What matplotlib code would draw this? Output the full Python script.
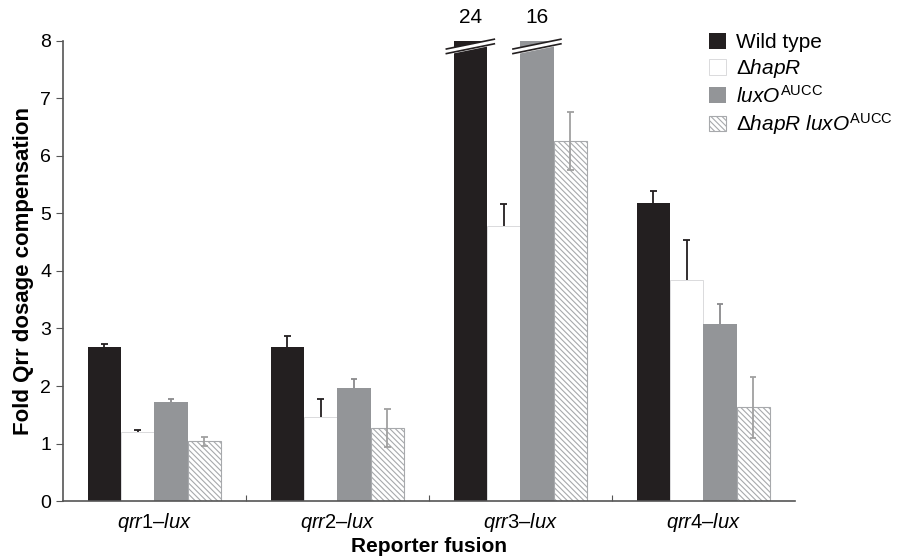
import numpy as np
import matplotlib.pyplot as plt

plt.rcParams['font.family'] = ['Liberation Sans', 'DejaVu Sans']
plt.rcParams['mathtext.fontset'] = 'custom'
plt.rcParams['mathtext.rm'] = 'Liberation Sans'
plt.rcParams['mathtext.it'] = 'Liberation Sans:italic'
plt.rcParams['mathtext.bf'] = 'Liberation Sans:bold'
plt.rcParams['hatch.linewidth'] = 0.8

# data
fusions = [r'$\mathit{qrr}$1$\mathit{–lux}$', r'$\mathit{qrr}$2$\mathit{–lux}$',
           r'$\mathit{qrr}$3$\mathit{–lux}$', r'$\mathit{qrr}$4$\mathit{–lux}$']
strains = ['Wild type', r'$\Delta\mathit{hapR}$', r'$\mathit{luxO}^{\mathrm{AUCC}}$',
           r'$\Delta\mathit{hapR}\ \mathit{luxO}^{\mathrm{AUCC}}$']
wild_type = [2.67, 2.67, 24, 5.18]
wild_type_err = [0.06, 0.2, 0, 0.21]
hapR = [1.2, 1.46, 4.79, 3.84]
hapR_err = [0.03, 0.31, 0.37, 0.7]
luxO = [1.73, 1.96, 16, 3.07]
luxO_err = [0.04, 0.16, 0, 0.35]
double = [1.04, 1.27, 6.26, 1.63]
double_err = [0.08, 0.33, 0.5, 0.53]

ymax = 8
x = np.arange(len(fusions)) + 0.5
w = 0.182
cap = 0.018

fig = plt.figure(figsize=(8.98, 5.57), dpi=100)
ax = fig.add_axes([0.070, 0.1005, 0.815, 0.826])

series = [
    (wild_type, wild_type_err, dict(color='#231f20'), '#231f20', False),
    (hapR, hapR_err, dict(facecolor='white', edgecolor='#d4d5d7', linewidth=0.6), '#231f20', False),
    (luxO, luxO_err, dict(color='#939598'), '#8a8a8c', False),
    (double, double_err, dict(facecolor='white', edgecolor='#a7a9ac', hatch='\\\\\\\\\\\\', linewidth=0.8), '#a0a0a0', True),
]

for i, (vals, errs, style, ecol, both) in enumerate(series):
    pos = x + (i - 1.5) * w
    ax.bar(pos, vals, w, label=strains[i], zorder=2, **style)
    vals = np.array(vals)
    errs = np.array(errs)
    show = (errs > 0) & (vals < ymax)
    lo = vals - errs if both else vals
    hi = vals + errs
    ax.vlines(pos[show], lo[show], hi[show], color=ecol, lw=1.3, zorder=3)
    ax.hlines(hi[show], pos[show] - cap, pos[show] + cap, color=ecol, lw=1.3, zorder=3)
    if both:
        ax.hlines(lo[show], pos[show] - cap, pos[show] + cap, color=ecol, lw=1.3, zorder=3)

# broken bars for qrr3 (values off scale)
for i, vals in [(0, wild_type), (2, luxO)]:
    for j, v in enumerate(vals):
        if v > ymax:
            xc = x[j] + (i - 1.5) * w
            xs = np.array([xc - w / 2 - 0.04, xc + w / 2 + 0.04])
            y1 = np.array([7.78, 7.95])
            y2 = y1 + 0.08
            ax.fill_between(xs, y1, y2, color='white', zorder=4, clip_on=False)
            ax.plot(xs, y1, color='#231f20', lw=1.2, zorder=5, clip_on=False)
            ax.plot(xs, y2, color='#231f20', lw=1.2, zorder=5, clip_on=False)
            ax.text(xc, 8.25, f'{v:g}', ha='center', va='bottom', fontsize=15)

ax.set_xlim(0, 4)
ax.set_ylim(0, ymax)
ax.set_yticks(range(0, 9))
ax.set_xticks([1, 2, 3])
ax.set_xticklabels([])
ax.set_xticks(x, minor=True)
ax.set_xticklabels(fusions, minor=True, fontsize=14.5)
ax.tick_params(axis='x', which='major', direction='in', length=4, color='#555555')
ax.tick_params(axis='x', which='minor', length=0, pad=7)
ax.tick_params(axis='y', direction='out', length=5, color='#555555', labelsize=14)

for s in ['top', 'right']:
    ax.spines[s].set_visible(False)
for s in ['left', 'bottom']:
    ax.spines[s].set_color('#555555')
    ax.spines[s].set_linewidth(1.2)

ax.set_ylabel('Fold Qrr dosage compensation', fontsize=16, fontweight='bold', labelpad=4)
ax.set_xlabel('Reporter fusion', fontsize=15, fontweight='bold', labelpad=2)

ax.legend(loc='upper left', bbox_to_anchor=(0.872, 1.035), frameon=False, fontsize=15,
          handlelength=0.8, handleheight=0.8, handletextpad=0.5, labelspacing=0.22,
          borderaxespad=0)

fig.savefig('out.png', dpi=100)
